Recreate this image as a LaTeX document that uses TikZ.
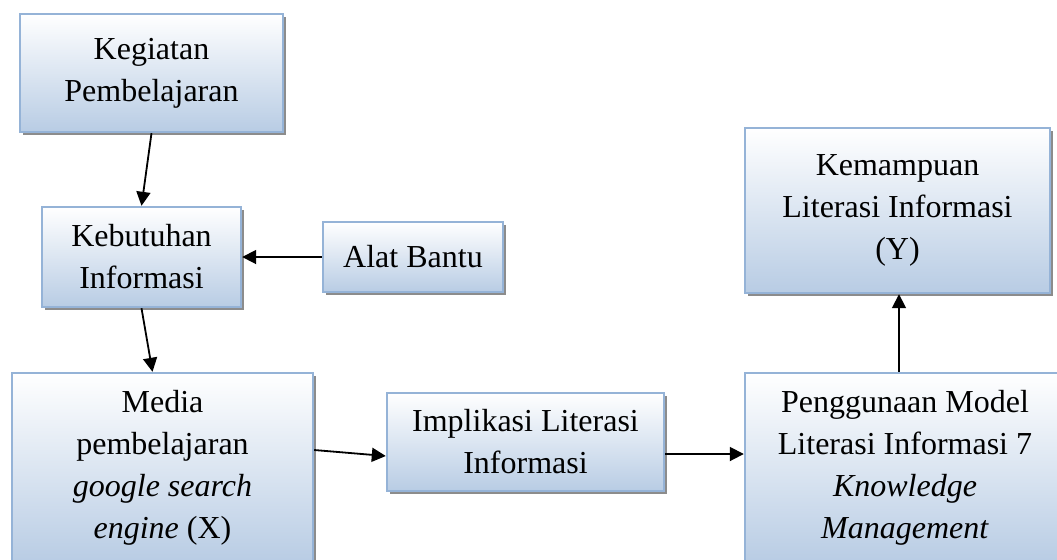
\documentclass[tikz,border=0pt]{standalone}
\usepackage{fontspec}
\setmainfont{Liberation Serif}
\usetikzlibrary{shadows,arrows.meta}
\definecolor{kotakgaris}{RGB}{149,179,215}
\definecolor{kotakbawah}{RGB}{184,204,228}
\definecolor{bayangan}{RGB}{140,140,140}

\begin{document}
\begin{tikzpicture}[x=0.5pt, y=-0.5pt,
  font=\fontsize{16}{21}\selectfont,
  kotak/.style={draw=kotakgaris, line width=1.2pt, top color=white, bottom color=kotakbawah,
    align=center, inner sep=0pt,
    drop shadow={shadow xshift=1.5pt, shadow yshift=-1.5pt, fill=bayangan, opacity=1}},
  panah/.style={-{Triangle[length=7pt,width=7pt]}, line width=0.9pt}]
  % batas gambar
  \useasboundingbox (0,0) rectangle (1057,559);
  \clip (0,0) rectangle (1057,559);
  % kotak
  \node[kotak, minimum width=131.5pt, minimum height=59pt] (kegiatan) at (151.5,73) {Kegiatan\\Pembelajaran};
  \node[kotak, minimum width=99.5pt, minimum height=50pt] (kebutuhan) at (141.5,257) {Kebutuhan\\Informasi};
  \node[kotak, minimum width=90pt, minimum height=35pt] (alat) at (413,257) {Alat Bantu};
  \node[kotak, minimum width=150.5pt, minimum height=95pt] (media) at (162.5,468)
    {Media\\pembelajaran\\\textit{google search}\\\textit{engine} (X)};
  \node[kotak, minimum width=138.5pt, minimum height=49pt] (implikasi) at (525.5,442) {Implikasi Literasi\\Informasi};
  \node[kotak, minimum width=160pt, minimum height=95pt] (penggunaan) at (905,468)
    {Penggunaan Model\\Literasi Informasi 7\\\textit{Knowledge}\\\textit{Management}};
  \node[kotak, minimum width=152.5pt, minimum height=82.5pt] (kemampuan) at (897.5,210.5)
    {Kemampuan\\Literasi Informasi\\(Y)};
  % panah
  \draw[panah] (kegiatan.south) -- (kebutuhan.north);
  \draw[panah] (alat.west) -- (kebutuhan.east);
  \draw[panah] (kebutuhan.south) -- ([xshift=-5pt]media.north);
  \draw[panah] ([yshift=9pt]media.east) -- ([yshift=-7pt]implikasi.west);
  \draw[panah] ([yshift=-6pt]implikasi.east) -- ([yshift=-6pt]implikasi.east -| penggunaan.west);
  \draw[panah] ([xshift=-3pt]penggunaan.north) -- ([xshift=-3pt]penggunaan.north |- kemampuan.south);
\end{tikzpicture}
\end{document}
